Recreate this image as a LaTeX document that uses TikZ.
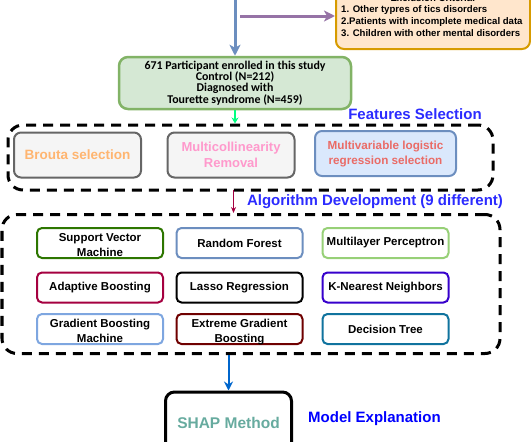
\documentclass[tikz,border=0pt]{standalone}
\usepackage{fontspec}
\setmainfont{Liberation Sans}
\newfontfamily\cohortfont{Carlito}
\usetikzlibrary{arrows.meta}
\definecolor{headblue}{HTML}{2B2BFF}
\definecolor{inblue}{HTML}{6C8EBF}
\definecolor{exclpurple}{HTML}{9673A6}
\definecolor{exclborder}{HTML}{D79B00}
\definecolor{exclfill}{HTML}{FFE6CC}
\definecolor{cohortfill}{HTML}{D5E8D4}
\definecolor{cohortborder}{HTML}{82B366}
\definecolor{fsgray}{HTML}{666666}
\definecolor{fsfill}{HTML}{F5F5F5}
\definecolor{mvfill}{HTML}{DAE8FC}
\definecolor{broutatext}{HTML}{FFB570}
\definecolor{multitext}{HTML}{FF99CC}
\definecolor{mvtext}{HTML}{EA6B66}
\definecolor{svmcol}{HTML}{2D7600}
\definecolor{mlpcol}{HTML}{97D077}
\definecolor{adacol}{HTML}{A50040}
\definecolor{knncol}{HTML}{3700CC}
\definecolor{gbmcol}{HTML}{7EA6E0}
\definecolor{xgbcol}{HTML}{6F0000}
\definecolor{dtcol}{HTML}{10739E}
\definecolor{greenarrow}{HTML}{00FF80}
\definecolor{shaparrow}{HTML}{0066CC}
\definecolor{shaptext}{HTML}{67AB9F}
\begin{document}
\begin{tikzpicture}[x=1pt,y=-1pt,
  algo/.style={draw,line width=2pt,rounded corners=5pt,fill=white,minimum width=126pt,
    minimum height=30pt,inner sep=1pt,align=center,font=\bfseries\fontsize{11.5}{15}\selectfont},
  algotwo/.style={algo,text height=27pt,text depth=0pt},
  fsbox/.style={draw=fsgray,fill=fsfill,line width=2pt,rounded corners=7pt,minimum width=127pt,
    minimum height=45pt,align=center,font=\bfseries\fontsize{13.5}{16}\selectfont},
  heading/.style={text=headblue,inner sep=0pt,font=\bfseries\fontsize{15}{18}\selectfont},
  groupbox/.style={draw,line width=3pt,dash pattern=on 10pt off 7pt,rounded corners=15pt},
  classic/.style={-{Stealth[length=11pt,width=11pt,inset=3pt]},line width=3pt}]
\useasboundingbox (0,0) rectangle (531,442);
% exclusion
\node (excl) [draw=exclborder,fill=exclfill,line width=2pt,rounded corners=8pt,
  minimum width=194pt,minimum height=64pt] at (433,17) {};
\node (excltitle) [font=\bfseries\fontsize{9.6}{12}\selectfont] at (433,-1.5) {Exclusion Criteria:};
\node (excllist) [anchor=west,align=left,inner sep=0pt,font=\bfseries\fontsize{9.6}{12}\selectfont] at (341,21)
  {1. Other typres of tics disorders\\2.Patients with incomplete medical data\\3. Children with other mental disorders};
% cohort
\node (cohort) [draw=cohortborder,fill=cohortfill,line width=2.5pt,rounded corners=9pt,
  minimum width=232pt,minimum height=52pt,align=center,inner sep=0pt,
  font=\cohortfont\bfseries\fontsize{11.9}{11.4}\selectfont] at (235,83)
  {671 Participant enrolled in this study\\Control (N=212)\\Diagnosed with\\Tourette syndrome (N=459)};
\coordinate (topin) at (235,-5);
\coordinate (exclout) at (240,16);
\draw[classic,inblue] (topin) -- (cohort.north);
\draw[classic,exclpurple] (exclout) -- (exclout -| excl.west);
% features selection
\node (fsgroup) [groupbox,minimum width=485pt,minimum height=65pt] at (250.5,157.5) {};
\node (fshead) [heading] at (415,114) {Features Selection};
\node (brouta) [fsbox,text=broutatext] at (77.5,155) {Brouta selection};
\node (multi) [fsbox,text=multitext,font=\bfseries\fontsize{13}{16}\selectfont] at (231,155) {Multicollinearity\\Removal};
\node (mvlog) [fsbox,draw=inblue,fill=mvfill,text=mvtext,minimum width=141pt,
  font=\bfseries\fontsize{11.7}{15}\selectfont] at (385.5,153.5) {Multivariable logistic\\regression selection};
\draw[-{Stealth[length=6pt,width=7pt]},line width=1.5pt,greenarrow] (cohort.south) -- (cohort.south |- fsgroup.north);
% algorithm development
\node (algogroup) [groupbox,minimum width=498pt,minimum height=139pt] at (251,284) {};
\node (algohead) [heading] at (375,202) {Algorithm Development (9 different)};
\draw[-{Stealth[length=6pt,width=5pt]},line width=1.2pt,adacol] (233.5,190) -- (233.5,213);
\node (svm) [algotwo,draw=svmcol] at (100,243) {Support Vector\\Machine};
\node (rf) [algo,draw=inblue] at (239.5,243) {Random Forest};
\node (mlp) [algo,draw=mlpcol] at (385.5,243) {Multilayer Perceptron};
\node (ada) [algo,draw=adacol] at (100,287.5) {Adaptive Boosting};
\node (lasso) [algo,draw=black] at (239.5,287.5) {Lasso Regression};
\node (knn) [algo,draw=knncol] at (385.5,287.5) {K-Nearest Neighbors};
\node (gbm) [algotwo,draw=gbmcol] at (100,329) {Gradient Boosting\\Machine};
\node (xgb) [algotwo,draw=xgbcol] at (239.5,329) {Extreme Gradient\\Boosting};
\node (dt) [algo,draw=dtcol] at (385.5,329) {Decision Tree};
% explanation
\node (shap) [draw,line width=3pt,rounded corners=9pt,fill=white,minimum width=126pt,minimum height=62pt,
  text=shaptext,font=\bfseries\fontsize{15.5}{18}\selectfont] at (228.5,423) {SHAP Method};
\node (explhead) [heading,anchor=west,text=blue] at (308,419) {Model Explanation};
\draw[-{Stealth[length=9pt,width=9pt,inset=3pt]},line width=2pt,shaparrow] (shap.north |- algogroup.south) -- (shap.north);
\end{tikzpicture}
\end{document}
